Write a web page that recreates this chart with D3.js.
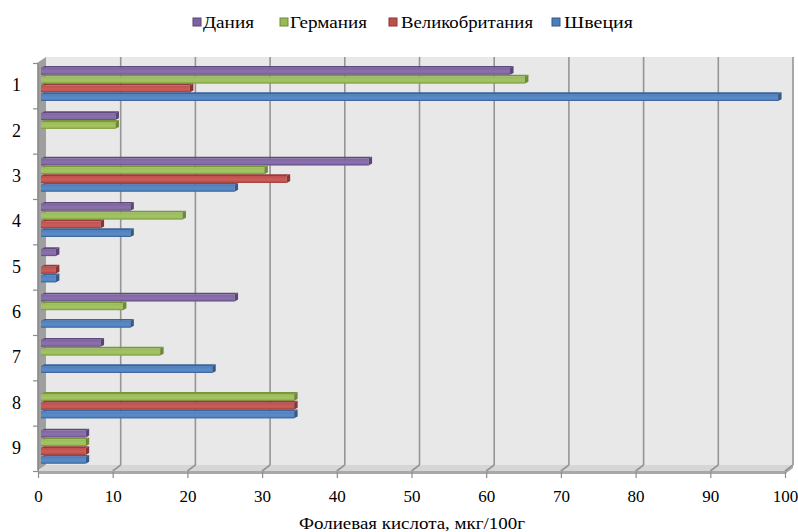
<!DOCTYPE html>
<html>
<head>
<meta charset="utf-8">
<script src="https://cdn.jsdelivr.net/npm/d3@7"></script>
<style>
  html, body { margin: 0; padding: 0; background: #fff; }
  svg { display: block; }
</style>
</head>
<body>
<svg id="chart" width="798" height="532"></svg>
<script>
// Folic acid content per product, by country
const categories = ["1", "2", "3", "4", "5", "6", "7", "8", "9"];
const seriesNames = ["Дания", "Германия", "Великобритания", "Швеция"];
const denmark = [63, 10, 44, 12, 2, 26, 8, null, 6];
const germany = [65, 10, 30, 19, null, 11, 16, 34, 6];
const britain = [20, null, 33, 8, 2, null, null, 34, 6];
const sweden  = [99, null, 26, 12, 2, 12, 23, 34, 6];
const xTicks = [0, 10, 20, 30, 40, 50, 60, 70, 80, 90, 100];
const axisTitle = "Фолиевая кислота, мкг/100г";

const FONT = "'Liberation Serif', 'Times New Roman', 'DejaVu Serif', serif";
const seriesValues = [denmark, germany, britain, sweden];
const palette = {
  "Дания":          { face: "#7f63a1", light: "#8a70ad", dark: "#5a4478", top: "#5f4a7e" },
  "Германия":       { face: "#98b954", light: "#a4c465", dark: "#6d8a36", top: "#769639" },
  "Великобритания": { face: "#c04e4b", light: "#c85d5a", dark: "#8a3533", top: "#963c39" },
  "Швеция":         { face: "#4c7ebb", light: "#5a8bc6", dark: "#35598a", top: "#3b6399" }
};

const svg = d3.select("#chart");

// 3D box geometry: front plane and back wall offset
const depth = { dx: 8, dy: -6 };
const plotTop = 63, plotBottom = 471;
const xFront = d3.scaleLinear().domain([0, 100]).range([38, 785]);
const xBack  = d3.scaleLinear().domain([0, 100]).range([38 + depth.dx, 785 + depth.dx]);
const xBar   = d3.scaleLinear().domain([0, 100]).range([41, 785.5]);
const y = d3.scaleBand().domain(categories).range([plotTop, plotBottom]).padding(0);
const yEdges = d3.scaleLinear().domain([0, categories.length]).range([plotTop, plotBottom]);

const defs = svg.append("defs");
seriesNames.forEach((s, i) => {
  const c = palette[s];
  const g = defs.append("linearGradient").attr("id", "grad" + i)
    .attr("x1", 0).attr("y1", 0).attr("x2", 0).attr("y2", 1);
  g.append("stop").attr("offset", "0%").attr("stop-color", c.face);
  g.append("stop").attr("offset", "50%").attr("stop-color", c.light);
  g.append("stop").attr("offset", "100%").attr("stop-color", c.face);
});

// Back wall
const backTop = plotTop + depth.dy, backBottom = plotBottom + depth.dy;
svg.append("rect")
  .attr("x", xBack(0)).attr("y", backTop)
  .attr("width", xBack(100) - xBack(0)).attr("height", backBottom - backTop)
  .attr("fill", "#e8e8e8");

// Left side wall
svg.append("path")
  .attr("d", `M${xFront(0) - 1},${plotTop} L${xBack(0)},${backTop} L${xBack(0)},${backBottom} L${xFront(0) - 1},${plotBottom} Z`)
  .attr("fill", "#9f9f9f");

// Floor: top surface and front edge
svg.append("path")
  .attr("d", `M${xFront(0)},${plotBottom} L${xBack(0)},${backBottom} L${xBack(100)},${backBottom} L${xFront(100)},${plotBottom} Z`)
  .attr("fill", "#d6d6d6");
svg.append("path")
  .attr("d", `M${xFront(0)},${plotBottom} L${xFront(100)},${plotBottom} L${xBack(100)},${backBottom} L${xBack(100)},${backBottom + 3} L${xFront(100)},${plotBottom + 3} L${xFront(0)},${plotBottom + 3} Z`)
  .attr("fill", "#a8a8a8");

// Gridlines on back wall and across the floor
const grid = svg.append("g").attr("stroke", "#959595").attr("stroke-width", 1.6).attr("fill", "none");
grid.selectAll("line.wall").data(xTicks.slice(1)).join("line")
  .attr("class", "wall")
  .attr("x1", d => xBack(d)).attr("x2", d => xBack(d))
  .attr("y1", backTop).attr("y2", backBottom);
grid.selectAll("line.floor").data(xTicks.slice(1)).join("line")
  .attr("class", "floor")
  .attr("x1", d => xBack(d)).attr("x2", d => xFront(d))
  .attr("y1", backBottom).attr("y2", plotBottom);

// Bars
const slotH = 8.75, topD = 1.8, capD = 3.5;
const barsG = svg.append("g");
categories.forEach((cat, ci) => {
  const inner = d3.scaleBand().domain(seriesNames)
    .range([y(cat) + 3, y(cat) + 3 + slotH * seriesNames.length]);
  seriesNames.forEach((s, si) => {
    const v = seriesValues[si][ci];
    if (v == null) return;
    const c = palette[s];
    const x0 = xBar(0), x1 = xBar(v);
    const yTop = inner(s) + topD;
    const yBot = inner(s) + inner.bandwidth();
    const g = barsG.append("g");
    // top face
    g.append("path")
      .attr("d", `M${x0},${yTop} L${x0 + capD},${yTop - topD} L${x1 + capD},${yTop - topD} L${x1},${yTop} Z`)
      .attr("fill", c.top);
    // front face
    g.append("rect")
      .attr("x", x0).attr("y", yTop)
      .attr("width", x1 - x0).attr("height", yBot - yTop)
      .attr("fill", `url(#grad${si})`);
    // bottom shading line
    g.append("line")
      .attr("x1", x0).attr("x2", x1).attr("y1", yBot - 0.5).attr("y2", yBot - 0.5)
      .attr("stroke", c.dark).attr("stroke-opacity", 0.6).attr("stroke-width", 1);
    // end cap
    g.append("path")
      .attr("d", `M${x1},${yTop} L${x1 + capD},${yTop - topD} L${x1 + capD},${yBot - topD} L${x1},${yBot} Z`)
      .attr("fill", c.dark);
  });
});

// Category axis (left)
const yAxisTicks = svg.append("g").attr("transform", `translate(${xFront(0)},0)`)
  .call(d3.axisLeft(yEdges).tickValues(d3.range(0, categories.length + 1)).tickFormat("").tickSize(5));
yAxisTicks.select(".domain").attr("stroke", "#8c8c8c");
yAxisTicks.selectAll(".tick line").attr("stroke", "#8c8c8c").attr("stroke-width", 1.2);

const yAxisLabels = svg.append("g").attr("transform", `translate(${xFront(0)},0)`)
  .call(d3.axisLeft(y).tickSize(0).tickPadding(17));
yAxisLabels.attr("font-family", null).attr("font-size", null);
yAxisLabels.select(".domain").remove();
yAxisLabels.selectAll(".tick text")
  .style("font-family", FONT).style("font-size", "18px").attr("fill", "#000");

// Value axis (bottom)
const xAxis = svg.append("g").attr("transform", `translate(0,${plotBottom + 1})`)
  .call(d3.axisBottom(xFront).tickValues(xTicks).tickSize(6).tickPadding(12));
xAxis.attr("font-family", null).attr("font-size", null);
xAxis.select(".domain").remove();
xAxis.selectAll(".tick line").attr("stroke", "#8c8c8c").attr("stroke-width", 1.2);
xAxis.selectAll(".tick text")
  .style("font-family", FONT).style("font-size", "17px").attr("fill", "#000");

// Axis title
svg.append("text")
  .attr("x", 412).attr("y", 529)
  .attr("text-anchor", "middle")
  .style("font-family", FONT).style("font-size", "17px")
  .attr("textLength", 226).attr("lengthAdjust", "spacingAndGlyphs")
  .text(axisTitle);

// Legend
const legendItems = [
  { name: "Дания", sx: 193, tx: 203, tw: 51 },
  { name: "Германия", sx: 280, tx: 290, tw: 77 },
  { name: "Великобритания", sx: 389, tx: 401, tw: 132 },
  { name: "Швеция", sx: 552, tx: 564, tw: 69 }
];
const legend = svg.append("g");
legendItems.forEach(it => {
  const c = palette[it.name];
  legend.append("rect")
    .attr("x", it.sx).attr("y", 18).attr("width", 8).attr("height", 8)
    .attr("fill", c.face).attr("stroke", c.dark).attr("stroke-width", 1);
  legend.append("text")
    .attr("x", it.tx).attr("y", 28)
    .style("font-family", FONT).style("font-size", "17px")
    .attr("textLength", it.tw).attr("lengthAdjust", "spacingAndGlyphs")
    .text(it.name);
});
</script>
</body>
</html>
